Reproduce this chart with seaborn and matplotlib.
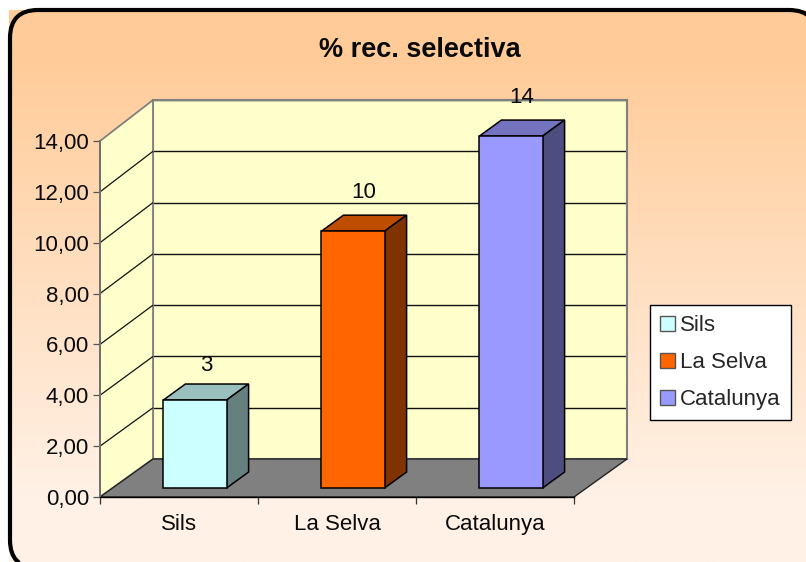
import numpy as np
import pandas as pd
import matplotlib
matplotlib.use("Agg")
import matplotlib.pyplot as plt
import seaborn as sns
from matplotlib.colors import LinearSegmentedColormap, to_rgb
from matplotlib.patches import FancyBboxPatch, Polygon
from matplotlib.transforms import Affine2D, IdentityTransform

categories = ["Sils", "La Selva", "Catalunya"]
values = [3.46, 10.1, 13.84]
bar_colors = ["#CCFFFF", "#FF6600", "#9999FF"]
y_ticks = [0, 2, 4, 6, 8, 10, 12, 14]
y_tick_labels = ["0,00", "2,00", "4,00", "6,00", "8,00", "10,00", "12,00", "14,00"]

W, H = 806, 562
FS = 16
TEXT = "#0A0A0A"


def box(left, top, right, bottom):
    # pixel box (y from the top) to figure fractions
    return [left / W, 1 - bottom / H, (right - left) / W, (bottom - top) / H]


def shade(color, f):
    return tuple(c * f for c in to_rgb(color))


sns.set_style("white")
plt.rcParams["font.family"] = ["Liberation Sans", "DejaVu Sans"]

fig = plt.figure(figsize=(W / 100, H / 100), dpi=100, facecolor="white")

# background: gradient and rounded frame
ax_bg = fig.add_axes([0, 0, 1, 1], zorder=-2)
ax_bg.axis("off")
cmap = LinearSegmentedColormap.from_list(
    "peach", [(0, "#FFCC99"), (0.09, "#FFCC99"), (0.88, "#FFF1E6"), (1, "#FFF1E6")])
ax_bg.imshow(np.linspace(0, 1, 256).reshape(-1, 1), cmap=cmap, aspect="auto",
             extent=(9, W, H, 10), interpolation="bilinear")
ax_bg.set_xlim(0, W)
ax_bg.set_ylim(H, 0)
rounded = FancyBboxPatch((10, 10), 807, 558, boxstyle="round,pad=0,rounding_size=28")
outline = rounded.get_path().to_polygons(closed_only=False)[0]
ax_bg.add_patch(Polygon(outline, closed=True, fc="none", ec="black", lw=3.0, clip_on=True))

# back wall is its own axes, front axes holds the scale and the bars
ax_back = fig.add_axes(box(153, 100, 627, 459), zorder=-1, facecolor="#FFFFCC")
ax_back.set_ylim(0, 14)
ax_back.set_yticks(y_ticks)
ax_back.set_xticks([])
ax_back.tick_params(left=False, labelleft=False)
ax_back.grid(axis="y", color="#111111", lw=1.0)
for s in ax_back.spines.values():
    s.set_color("#808080")
    s.set_linewidth(1.5)

ax = fig.add_axes(box(100, 141, 574, 497), facecolor="none")
df = pd.DataFrame({"place": categories, "value": values})
sns.barplot(data=df, x="place", y="value", hue="place", hue_order=categories,
            palette=bar_colors, dodge=False, width=0.4, saturation=1, ax=ax, legend=True)
ax.set_xlim(-0.5, 2.5)
ax.set_ylim(0, 14)
ax.set_xlabel("")
ax.set_ylabel("")
ax.set_yticks(y_ticks)
ax.set_yticklabels(y_tick_labels, fontsize=FS, color=TEXT)
ax.set_xticks(range(len(categories)))
ax.set_xticklabels(categories, fontsize=FS, color=TEXT)
ax.set_xticks([-0.5, 0.5, 1.5, 2.5], minor=True)
ax.tick_params(axis="x", which="major", length=0, pad=12.5)
ax.tick_params(axis="x", which="minor", length=5, width=0.9, color="#333333", bottom=True)
ax.tick_params(axis="y", length=5, width=0.9, color="#555555", left=True, pad=3)
sns.despine(ax=ax, top=True, right=True)
ax.spines["left"].set_color("#707070")
ax.spines["left"].set_linewidth(1.4)
ax.spines["bottom"].set_color("black")
ax.spines["bottom"].set_linewidth(1.0)


def px_front(x, v):
    return ax.transData.transform((x, v))


def px_back(x, v):
    # same category position pushed to the back wall
    p = ax_back.transData.transform((0, v))
    return np.array([px_front(x, v)[0] + 53, p[1]])


def poly(points, **kw):
    ax.add_patch(Polygon(points, closed=True, transform=IdentityTransform(),
                         clip_on=False, **kw))


# left wall, floor, diagonal grid lines
poly([px_front(-0.5, 0), px_back(-0.5, 0), px_back(-0.5, 14), px_front(-0.5, 14)],
     fc="#FFFFCC", ec="#808080", lw=1.3, zorder=0.5)
poly([px_front(-0.5, 0), px_front(2.5, 0), px_back(2.5, 0), px_back(-0.5, 0)],
     fc="#808080", ec="#222222", lw=1.0, zorder=0.6)
for t in y_ticks[1:-1]:
    poly([px_front(-0.5, t), px_back(-0.5, t)], fill=False, ec="#111111", lw=0.9, zorder=0.7)

# bars: shift the seaborn bars into the room and add top and side faces
shift_x, shift_y = 16, 9
depth_x, depth_y = 22, 16
lift = Affine2D().translate(shift_x, shift_y)
for patch, color, val in zip(ax.patches, bar_colors, values):
    x0, w = patch.get_x(), patch.get_width()
    patch.set_transform(patch.get_data_transform() + lift)
    patch.set_clip_on(False)
    patch.set_edgecolor("black")
    patch.set_linewidth(1.1)
    patch.set_zorder(3)
    fr = px_front(x0 + w, 0) + (shift_x, shift_y)
    tl = px_front(x0, val) + (shift_x, shift_y)
    tr = px_front(x0 + w, val) + (shift_x, shift_y)
    d = np.array([depth_x, depth_y])
    poly([tl, tr, tr + d, tl + d], fc=shade(color, 0.75), ec="black", lw=1.1, zorder=2.8)
    poly([fr, tr, tr + d, fr + d], fc=shade(color, 0.5), ec="black", lw=1.1, zorder=2.8)
    cx = (tl[0] + tr[0]) / 2 + 11
    # the short bar's label sits a little closer to its bar
    off = 25 if val < 5 else 27.5
    ax.annotate(f"{val:.0f}", xy=(cx, tl[1]), xycoords=IdentityTransform(),
                xytext=(0, off), textcoords="offset points", ha="center", va="center",
                fontsize=FS, color=TEXT, zorder=4, annotation_clip=False)

leg = ax.legend(loc="upper left", bbox_to_anchor=(650 / W, 1 - 305 / H), bbox_transform=fig.transFigure,
                fontsize=FS, frameon=True, fancybox=False, framealpha=1, facecolor="white",
                edgecolor="black", handlelength=0.66, handleheight=0.66, handletextpad=0.25,
                labelspacing=0.72, borderpad=0.45, borderaxespad=0, title=None)
leg.get_frame().set_linewidth(1.0)
for h in leg.legend_handles:
    h.set_edgecolor("#555555")
    h.set_linewidth(1.0)

fig.text(420 / W, 1 - 50 / H, "% rec. selectiva", ha="center", va="center",
         fontsize=19.5, fontweight="bold", color=TEXT)

fig.savefig("out.png", dpi=100, facecolor="white")
